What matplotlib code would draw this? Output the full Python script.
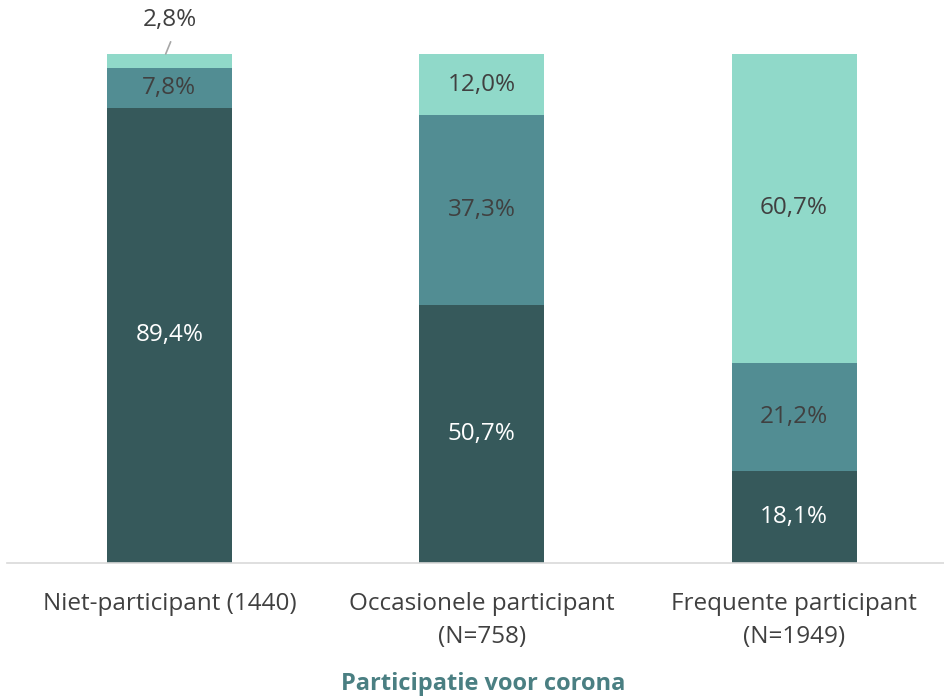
import numpy as np
import matplotlib.pyplot as plt

plt.rcParams['font.family'] = ['Open Sans', 'DejaVu Sans']

# data
categories = ['Niet-participant (1440)', 'Occasionele participant\n(N=758)', 'Frequente participant\n(N=1949)']
laag = [89.4, 50.7, 18.1]
midden = [7.8, 37.3, 21.2]
hoog = [2.8, 12.0, 60.7]

colors = ['#36595b', '#528d93', '#90d9c9']
text_colors = ['white', '#404040', '#404040']

fig = plt.figure(figsize=(9.44, 6.97), dpi=100)
ax = fig.add_axes([7 / 944, 1 - 563 / 697, 1 - 7 / 944, (563 - 54) / 697])

x = np.arange(len(categories))
bottom = np.zeros(len(categories))
for series, col, tcol in zip([laag, midden, hoog], colors, text_colors):
    vals = np.array(series)
    ax.bar(x, vals, width=0.4, bottom=bottom, color=col)
    for xi, b, v in zip(x, bottom, vals):
        lbl = f"{v:.1f}%".replace('.', ',')
        if v < 5:
            # small segment: label above the bar with a leader line
            top = b + v
            ax.text(xi, top + 6.6, lbl, ha='center', va='center', fontsize=17.5, color='#404040')
            ax.annotate('', xy=(xi - 0.012, top), xytext=(xi + 0.004, top + 2.4),
                        arrowprops=dict(arrowstyle='-', color='#a6a6a6', lw=1.2,
                                        shrinkA=0, shrinkB=0))
        else:
            ax.text(xi, b + v / 2, lbl, ha='center', va='center', fontsize=17.5, color=tcol)
    bottom += vals

ax.set_xlim(-0.52, 2.48)
ax.set_ylim(0, 100)
ax.set_yticks([])
ax.set_xticks(x)
ax.set_xticklabels(categories, fontsize=17.5, color='#404040', linespacing=1.5)
ax.tick_params(axis='x', length=0, pad=21)
for s in ['top', 'right', 'left']:
    ax.spines[s].set_visible(False)
ax.spines['bottom'].set_color('#d9d9d9')
ax.spines['bottom'].set_linewidth(1.2)

ax.set_xlabel('Participatie voor corona', fontsize=17, fontweight='bold', color='#4a7f82')
ax.xaxis.label.set_va('center')
ax.xaxis.set_label_coords((483 - 7) / 937, (563 - 684) / 509)

fig.savefig('out.png', dpi=100)
